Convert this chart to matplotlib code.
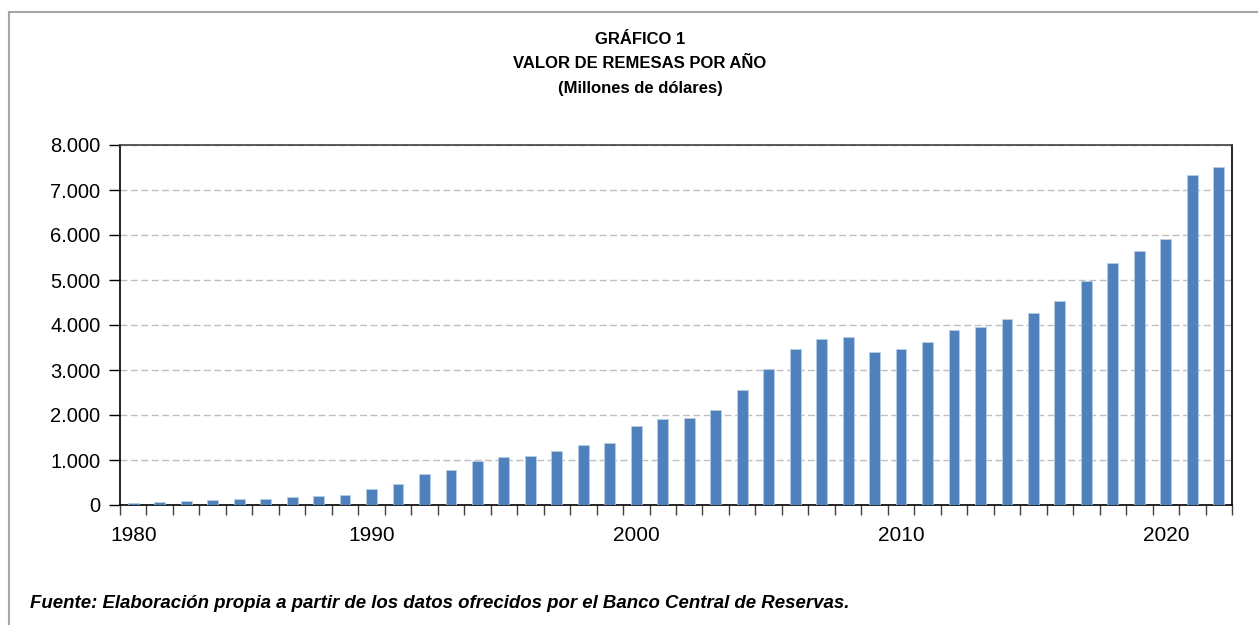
import matplotlib
matplotlib.use("Agg")
import matplotlib.pyplot as plt
from matplotlib.lines import Line2D
from matplotlib.ticker import FuncFormatter, FixedLocator

plt.rcParams['font.family'] = ['Liberation Sans', 'DejaVu Sans']

# remesas, millones de dolares (one bar per year)
years = list(range(1981, 2023))
remesas = [35, 75, 85, 110, 125, 130, 170, 190, 215, 350,
           462, 690, 785, 968, 1065, 1088, 1200, 1340, 1378, 1755,
           1911, 1940, 2110, 2548, 3015, 3467, 3690, 3740, 3393, 3460,
           3630, 3889, 3948, 4140, 4258, 4540, 4978, 5378, 5637, 5911,
           7333, 7518]

# axis labels as they appear under the bars
label_idx = [0, 9, 19, 29, 39]
label_txt = ['1980', '1990', '2000', '2010', '2020']

fig = plt.figure(figsize=(12.58, 6.25), dpi=100)
ax = fig.add_axes([120/1258, 120/625, 1112/1258, 360/625])

x = list(range(len(years)))
ax.bar(x, remesas, width=0.41, color='#4F81BD', edgecolor='#B9CDE5', linewidth=0.6, zorder=3)

ax.set_xlim(-0.5, len(years) - 0.5)
ax.set_ylim(0, 8000)

# y axis
ax.yaxis.set_major_locator(FixedLocator(range(0, 8001, 1000)))
ax.yaxis.set_major_formatter(FuncFormatter(lambda v, p: f"{int(v):,}".replace(",", ".")))
ax.tick_params(axis='y', direction='out', length=8, width=1, labelsize=14.5, pad=6, colors='black')
ax.yaxis.grid(True, linestyle=(0, (5, 2.5)), color='#BFBFBF', linewidth=1, zorder=0)

# x axis: tick marks between categories, labels every decade
ax.set_xticks(label_idx)
ax.set_xticklabels(label_txt)
ax.set_xticks([i - 0.5 for i in range(len(years) + 1)], minor=True)
ax.tick_params(axis='x', which='major', length=0, labelsize=15, pad=15)
ax.tick_params(axis='x', which='minor', direction='out', length=7, width=1, color='#404040')

for s in ['left', 'bottom', 'right']:
    ax.spines[s].set_color('black')
    ax.spines[s].set_linewidth(1.2)
ax.spines['top'].set_color('#404040')
ax.spines['top'].set_linewidth(1.2)

# titles
fig.text(640/1258, 1 - 40/625, 'GRÁFICO 1', ha='center', va='center', fontsize=12, fontweight='bold')
fig.text(640/1258, 1 - 64/625, 'VALOR DE REMESAS POR AÑO', ha='center', va='center', fontsize=12, fontweight='bold')
fig.text(640/1258, 1 - 89/625, '(Millones de dólares)', ha='center', va='center', fontsize=12, fontweight='bold')

fig.text(30/1258, 1 - 603/625,
         'Fuente: Elaboración propia a partir de los datos ofrecidos por el Banco Central de Reservas.',
         ha='left', va='center', fontsize=13.4, fontweight='bold', fontstyle='italic')

# outer frame (top and left only)
fig.add_artist(Line2D([9/1258, 1], [1 - 12/625, 1 - 12/625], color='#A6A6A6', linewidth=1.5))
fig.add_artist(Line2D([9/1258, 9/1258], [0, 1 - 12/625], color='#A6A6A6', linewidth=1.5))

fig.savefig('out.png', dpi=100)
